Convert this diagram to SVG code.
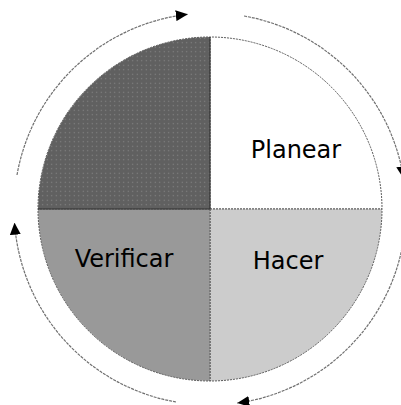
<svg xmlns="http://www.w3.org/2000/svg" width="401" height="405" viewBox="0 0 401 405">
  <style>
    .q { stroke: #5a5a5a; stroke-width: 1; stroke-dasharray: 2 1; }
    .lbl { font-family: "DejaVu Sans", Verdana, sans-serif; font-size: 24px; fill: #000; text-anchor: middle; }
    .arc { fill: none; stroke: #707070; stroke-width: 1.2; stroke-dasharray: 3 1; }
  </style>
  <defs>
    <pattern id="dots" width="4.5" height="4.5" patternUnits="userSpaceOnUse">
      <rect width="4.5" height="4.5" fill="#606060"/>
      <circle cx="2.25" cy="2.25" r="0.6" fill="#8a8a8a"/>
    </pattern>
    <marker id="ah" viewBox="0 0 12 11" refX="12" refY="5.5" markerWidth="12" markerHeight="11" markerUnits="userSpaceOnUse" orient="auto">
      <path d="M0,0 L12,5.5 L0,11 Z" fill="#000"/>
    </marker>
  </defs>

  <g id="actuar">
    <path class="q" d="M210,209 L38,209 A172,172 0 0 1 210,37 Z" fill="url(#dots)"/>
  </g>
  <g id="planear">
    <path class="q" d="M210,209 L210,37 A172,172 0 0 1 382,209 Z" fill="#ffffff"/>
    <text class="lbl" x="296" y="158">Planear</text>
  </g>
  <g id="hacer">
    <path class="q" d="M210,209 L382,209 A172,172 0 0 1 210,381 Z" fill="#cccccc"/>
    <text class="lbl" x="288" y="269">Hacer</text>
  </g>
  <g id="verificar">
    <path class="q" d="M210,209 L210,381 A172,172 0 0 1 38,209 Z" fill="#999999"/>
    <text class="lbl" x="124" y="267">Verificar</text>
  </g>
  <line x1="210" y1="37" x2="210" y2="209" stroke="#333" stroke-width="1.2"/>
  <line x1="38" y1="209" x2="210" y2="209" stroke="#333" stroke-width="1.2"/>

  <g id="connectors">
    <path class="arc" d="M17,175 A196,196 0 0 1 187.8,14.3" marker-end="url(#ah)"/>
    <path class="arc" d="M244,16 A196,196 0 0 1 403.6,178.3" marker-end="url(#ah)"/>
    <path class="arc" d="M404.1,236.3 A196,196 0 0 1 237.3,403.1" marker-end="url(#ah)"/>
    <path class="arc" d="M176,402 A196,196 0 0 1 14.5,222.7" marker-end="url(#ah)"/>
  </g>
</svg>
